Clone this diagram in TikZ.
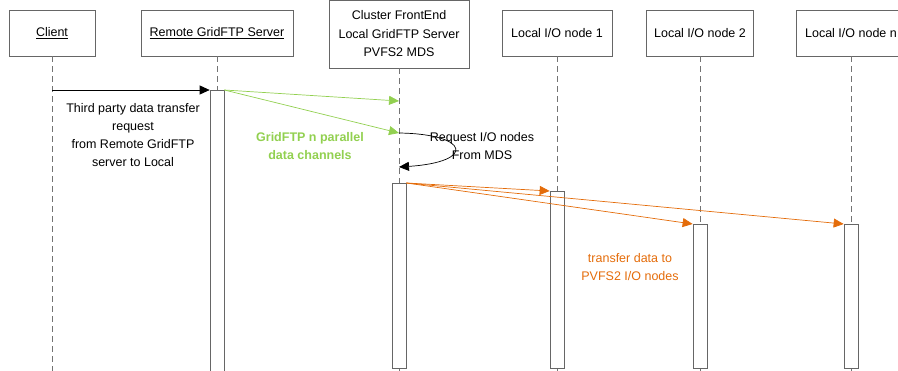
\documentclass[tikz,border=0pt]{standalone}
\usepackage{fontspec}
\setmainfont{Liberation Sans}
\usetikzlibrary{arrows.meta}

\definecolor{chgreen}{RGB}{146,208,80}
\definecolor{xferorange}{RGB}{228,108,10}

\tikzset{
  obj/.style={draw=black!60, fill=white, line width=0.7pt, minimum height=46pt, align=center,
    inner sep=2pt, font=\fontsize{12.5}{18.5}\selectfont},
  life/.style={draw=black!55, line width=0.7pt, dash pattern=on 6pt off 4pt},
  bar/.style={draw=black!60, fill=white, line width=0.7pt, minimum width=14pt, inner sep=0pt, anchor=north},
  msg/.style={line width=0.7pt, -{Triangle[length=10pt,width=9pt]}},
  note/.style={align=center, font=\fontsize{12.5}{18}\selectfont},
}

\begin{document}
\begin{tikzpicture}[x=1pt,y=-1pt]
  \useasboundingbox (0,0) rectangle (898,370);
  \clip (0,0) rectangle (898,370);

  % Objects
  \node[obj, minimum width=86pt]  (cl)  at (52,33)  {\underline{Client}};
  \node[obj, minimum width=152pt] (rs)  at (217,33) {\underline{Remote GridFTP Server}};
  \node[obj, minimum width=140pt, minimum height=68pt] (fe) at (399,34)
    {Cluster FrontEnd\\Local GridFTP Server\\PVFS2 MDS};
  \node[obj, minimum width=110pt] (io1) at (557,33) {Local I/O node 1};
  \node[obj, minimum width=107pt] (io2) at (700,33) {Local I/O node 2};
  \node[obj, minimum width=110pt] (ion) at (851,33) {Local I/O node n};

  \coordinate (bot) at (0,372);

  % Lifelines
  \foreach \n in {cl,rs,fe,io1,io2,ion}
    \draw[life] (\n) -- (\n |- bot);

  % Activation bars
  \foreach \n/\y/\h in {rs/90/284,fe/183/185,io1/191/177,io2/224/144,ion/224/144}
    \node[bar, minimum height=\h pt] (b\n) at (\n |- 0,\y) {};

  % Request from the client
  \coordinate (c1) at (cl |- 0,90);
  \draw[msg] (c1) -- (brs.north west);
  \node[note] (treq) at (133,135)
    {Third party data transfer\\request\\from Remote GridFTP\\server to Local};

  % Parallel data channels
  \coordinate (m1) at (fe |- 0,101);
  \coordinate (m2) at (fe |- 0,133);
  \coordinate (m3) at (fe |- 0,167);
  \draw[msg, chgreen] (brs.north east) -- (m1);
  \draw[msg, chgreen] (brs.north east) -- (m2);
  \node[note, text=chgreen, font=\fontsize{12.5}{18}\selectfont\bfseries] (gch) at (310,146)
    {GridFTP n parallel\\data channels};

  % Self call to the MDS
  \draw[msg] (m2) .. controls (470,134) and (476,162) .. (m3);
  \node[note] (rq) at (482,146) {Request I/O nodes\\From MDS};

  % Transfer to the I/O nodes
  \foreach \n in {io1,io2,ion}
    \draw[msg, xferorange] (bfe.north east) -- (b\n.north west);
  \node[note, text=xferorange] (tx) at (630,267) {transfer data to\\PVFS2 I/O nodes};
\end{tikzpicture}
\end{document}
